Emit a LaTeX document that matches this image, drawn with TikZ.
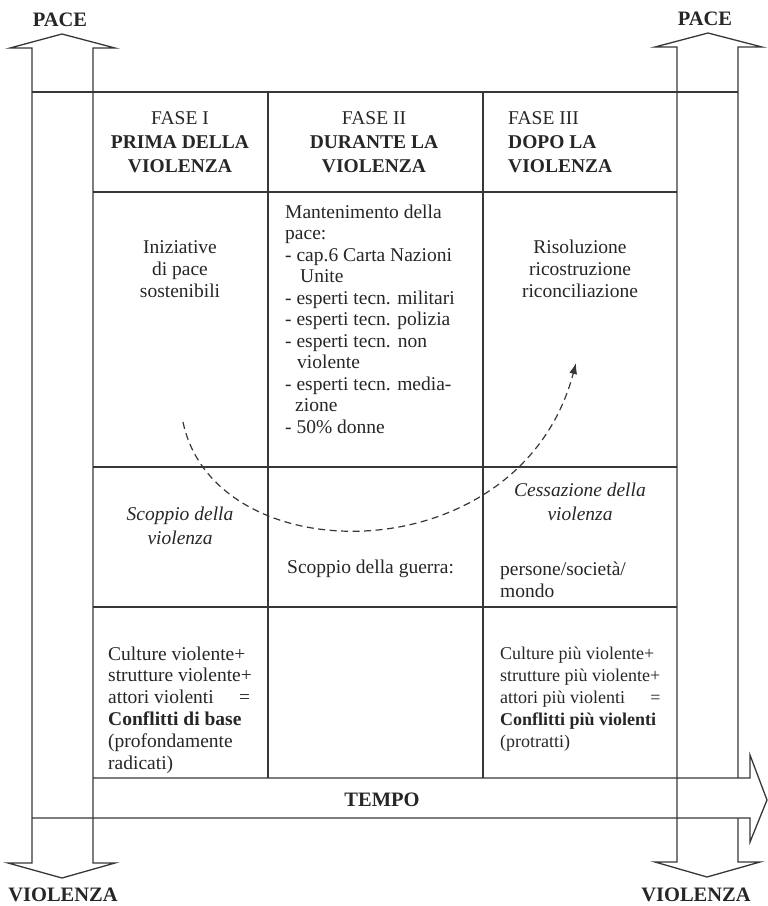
\documentclass[tikz,border=0pt]{standalone}
\usepackage{fontspec}
\setmainfont{Liberation Serif}
\usetikzlibrary{arrows.meta}
\definecolor{FasiInk}{RGB}{38,38,38}
\definecolor{FasiLine}{RGB}{55,55,55}
\tikzset{
  fasi/frame/.style={
    draw=FasiLine,
    line width=1.3pt,
    line join=miter
  },
  fasi/rule/.style={draw=FasiLine, line width=1.3pt},
  fasi/tag/.style={
    font=\fontsize{20.5}{24}\selectfont\bfseries,
    text=FasiInk,
    inner sep=0pt,
    anchor=base
  },
  fasi/head/.style={
    font=\fontsize{19.5}{24}\selectfont,
    text=FasiInk,
    inner sep=0pt,
    anchor=base,
    align=center
  },
  fasi/text/.style={
    font=\fontsize{19.5}{22}\selectfont,
    text=FasiInk,
    inner sep=0pt,
    anchor=base,
    align=center
  },
  fasi/italic/.style={
    fasi/text,
    font=\fontsize{19.5}{24}\selectfont\itshape
  },
  fasi/list/.style={
    font=\fontsize{19.5}{21.5}\selectfont,
    text=FasiInk,
    inner sep=0pt,
    anchor=base west,
    align=left
  },
  fasi/arc/.style={-{Latex[length=11pt,width=8pt]}, line width=1.2pt, dash pattern=on 7pt off 4.5pt, draw=FasiLine}
}
\begin{document}
\begin{tikzpicture}[x=1pt,y=-1pt]
  \useasboundingbox (0,0) rectangle (768,906);
  % frame: the two vertical arrows and the time arrow
  \draw[fasi/frame] (32,48) -- (10,48) -- (62,34) -- (115,48) -- (93,48) -- (93,863) -- (115,863) -- (62,878) -- (8,863) -- (32,863) -- cycle;
  \draw[fasi/frame] (738,778) -- (738,47) -- (762,47) -- (708,33) -- (655,47) -- (677,47) -- (677,862) -- (655,862) -- (707,877) -- (760,862) -- (738,862) -- (738,818);
  \draw[fasi/frame] (32,92) -- (738,92);
  \draw[fasi/frame] (93,778) -- (750,778) -- (750,755) -- (767,800) -- (750,842) -- (750,818) -- (32,818);
  % table
  \draw[fasi/rule] (268,92) -- (268,778);
  \draw[fasi/rule] (483,92) -- (483,778);
  \draw[fasi/rule] (93,192) -- (677,192);
  \draw[fasi/rule] (93,467) -- (677,467);
  \draw[fasi/rule] (93,607) -- (677,607);

  \node[fasi/tag] (paceL) at (60,26) {PACE};
  \node[fasi/tag] (paceR) at (705,25) {PACE};
  \node[fasi/tag] (violenzaL) at (63,901) {VIOLENZA};
  \node[fasi/tag] (violenzaR) at (696,901) {VIOLENZA};
  \node[fasi/tag] (tempo) at (382,806) {TEMPO};

  % multi-line nodes sit on the baseline of their last line
  \node[fasi/head] (fase1) at (180,172) {FASE I\\\textbf{PRIMA DELLA}\\\textbf{VIOLENZA}};
  \node[fasi/head] (fase2) at (374,172) {FASE II\\\textbf{DURANTE LA}\\\textbf{VIOLENZA}};
  \node[fasi/head,anchor=base west,align=left] (fase3) at (508,172) {FASE III\\\textbf{DOPO LA}\\\textbf{VIOLENZA}};

  \node[fasi/text] (iniziative) at (180,297) {Iniziative\\di pace\\sostenibili};
  \node[fasi/list] (mantenimento) at (285,433) {Mantenimento della\\pace:\\- cap.6 Carta Nazioni\\\hspace*{15pt}Unite\\- esperti tecn. militari\\- esperti tecn. polizia\\- esperti tecn.\hspace{7pt}non\\\hspace*{12pt}violente\\- esperti tecn. media-\\\hspace*{10pt}zione\\- 50\% donne};
  \node[fasi/text] (risoluzione) at (580,297) {Risoluzione\\ricostruzione\\riconciliazione};

  \node[fasi/italic] (scoppio) at (180,544) {Scoppio della\\violenza};
  \node[fasi/list] (guerra) at (287,573) {Scoppio della guerra:};
  \node[fasi/italic] (cessazione) at (580,520) {Cessazione della\\violenza};
  \node[fasi/list] (mondo) at (500,597) {persone/società/\\mondo};

  \node[fasi/list,font=\fontsize{19.5}{21.8}\selectfont] (culture) at (108,769) {Culture violente+\\strutture violente+\\attori violenti\hspace{1.3em}=\\\textbf{Conflitti di base}\\(profondamente\\radicati)};
  \node[fasi/list,font=\fontsize{18}{21.8}\selectfont] (culturePiu) at (500,747) {Culture più violente+\\strutture più violente+\\attori più violenti\hspace{1.4em}=\\\textbf{Conflitti più violenti}\\(protratti)};

  \coordinate (arcStart) at (183,422);
  \coordinate (arcEnd) at (576,363);
  \draw[fasi/arc] (arcStart) .. controls (215,575) and (520,575) .. (arcEnd);
\end{tikzpicture}
\end{document}
